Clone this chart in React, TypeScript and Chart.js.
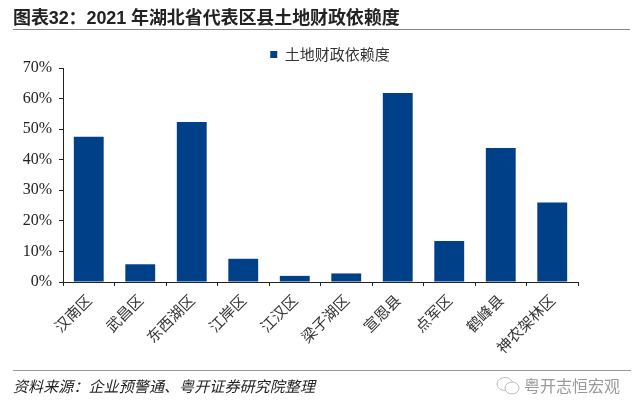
import React, { useEffect, useRef } from "react";
import { Chart, registerables } from "chart.js";

Chart.register(...registerables);

const TITLE = "图表32：2021 年湖北省代表区县土地财政依赖度";
const SOURCE = "资料来源：企业预警通、粤开证券研究院整理";
const WATERMARK = "粤开志恒宏观";
const SERIES_NAME = "土地财政依赖度";
const categories = ["汉南区", "武昌区", "东西湖区", "江岸区", "江汉区", "梁子湖区", "宣恩县", "点军区", "鹤峰县", "神农架林区"];
const values = [47.5, 5.8, 52.3, 7.6, 2.0, 2.8, 61.8, 13.4, 43.8, 26.0];

const CJK = '"Noto Sans CJK SC", sans-serif';
const LATIN = '"Liberation Serif", serif';

const legendShift = {
  id: "legendShift",
  afterLayout(chart: any) {
    if (chart.legend) {
      chart.legend.left += 41;
      chart.legend.right += 41;
      chart.legend.top += 4;
      chart.legend.bottom += 4;
    }
  },
};

export default function App() {
  const ref = useRef<HTMLCanvasElement>(null);
  useEffect(() => {
    document.body.style.margin = "0";
    document.body.style.background = "#fff";
    const chart = new Chart(ref.current!, {
      type: "bar",
      data: {
        labels: categories,
        datasets: [
          {
            label: SERIES_NAME,
            data: values,
            backgroundColor: "#004088",
            barPercentage: 0.58,
            categoryPercentage: 1,
          },
        ],
      },
      plugins: [legendShift],
      options: {
        responsive: false,
        animation: false,
        layout: { padding: { left: 0, right: 62, top: 41, bottom: 0 } },
        plugins: {
          title: { display: false },
          tooltip: { enabled: false },
          legend: {
            display: true,
            position: "top",
            labels: {
              boxWidth: 7,
              boxHeight: 7,
              color: "#333",
              font: { family: CJK, size: 15 },
              padding: 2,
            },
          },
        },
        scales: {
          x: {
            grid: { drawOnChartArea: false, color: "#222", tickLength: 4, offset: true },
            border: { color: "#222", width: 1 },
            ticks: {
              color: "#333",
              font: { family: CJK, size: 15 },
              minRotation: 45,
              maxRotation: 45,
              padding: 5,
              autoSkip: false,
            },
            afterFit(scale: any) {
              scale.height = 130;
            },
          },
          y: {
            min: 0,
            max: 70,
            grid: { drawOnChartArea: false, color: "#222", tickLength: 4 },
            border: { color: "#222", width: 1 },
            ticks: {
              stepSize: 10,
              color: "#222",
              padding: 7,
              font: { family: LATIN, size: 16 },
              callback: (v: any) => `${v}%`,
            },
            afterFit(scale: any) {
              scale.width = 63;
            },
          },
        },
      },
    } as any);
    return () => chart.destroy();
  }, []);

  const text = (style: React.CSSProperties): React.CSSProperties => ({
    position: "absolute",
    whiteSpace: "nowrap",
    lineHeight: 1,
    ...style,
  });

  return (
    <div style={{ position: "relative", width: 640, height: 412, overflow: "hidden", background: "#fff" }}>
      <canvas ref={ref} width={640} height={412} style={{ position: "absolute", left: 0, top: 0 }} />
      <div style={text({ left: 13, top: 9, fontFamily: `"Liberation Sans", ${CJK}`, fontWeight: 700, fontSize: 18, letterSpacing: -0.1, color: "#222" })}>{TITLE}</div>
      <div style={{ position: "absolute", left: 13, top: 29, width: 617, height: 1, background: "#888" }} />
      <div style={{ position: "absolute", left: 13, top: 370, width: 618, height: 1, background: "#999" }} />
      <div style={text({ left: 13, top: 378, fontFamily: CJK, fontStyle: "italic", fontSize: 15, letterSpacing: 0.1, color: "#222" })}>{SOURCE}</div>
      <svg width="26" height="22" style={{ position: "absolute", left: 495, top: 375 }} viewBox="0 0 26 22">
        <ellipse cx="10" cy="9" rx="8" ry="6.5" fill="none" stroke="#bbb" strokeWidth="1" />
        <ellipse cx="17" cy="13" rx="7" ry="6" fill="#fff" stroke="#bbb" strokeWidth="1" />
      </svg>
      <div style={text({ left: 524, top: 377, fontFamily: CJK, fontSize: 16, color: "#999" })}>{WATERMARK}</div>
    </div>
  );
}
